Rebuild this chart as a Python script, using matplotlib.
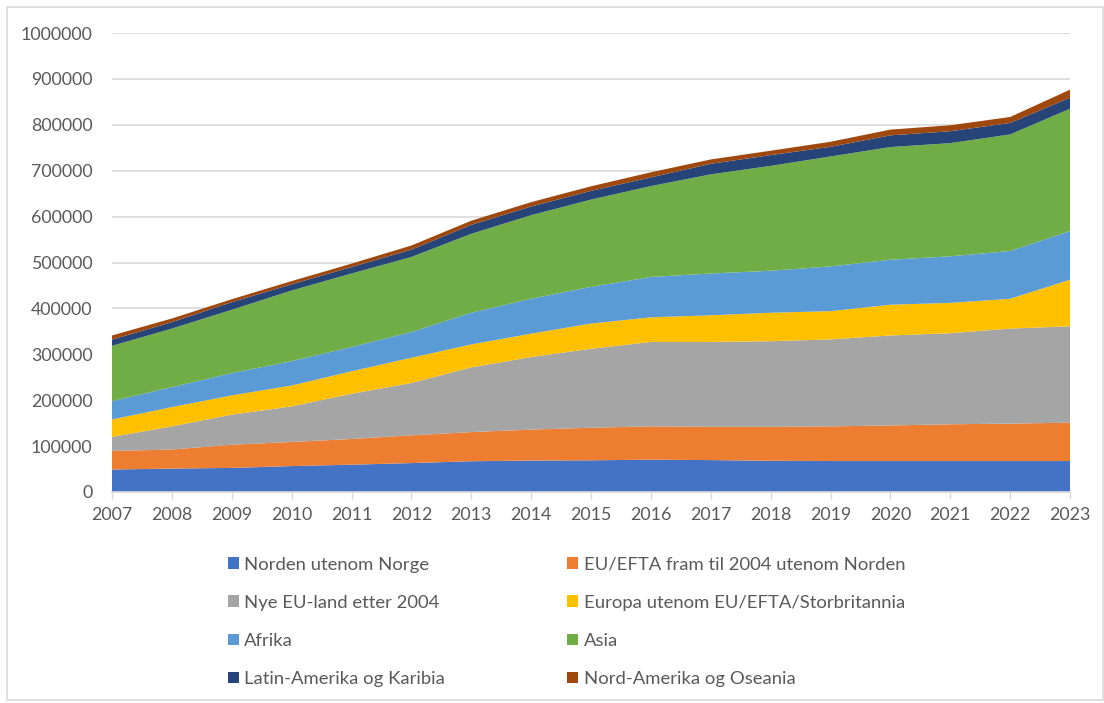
import matplotlib.pyplot as plt
from matplotlib.patches import Rectangle, Patch

plt.rcParams['font.family'] = ['Lato', 'DejaVu Sans']

years = list(range(2007, 2024))

# values per year
norden = [49000, 51000, 52500, 56500, 59500, 63000, 67000, 68500, 69000, 70500,
          69500, 68000, 67500, 67500, 67500, 67500, 67500]
eu_efta = [40500, 41500, 50500, 52500, 56000, 60500, 63500, 67500, 71000, 72500,
           72500, 74000, 75500, 77500, 80000, 81500, 83500]
nye_eu = [30500, 50500, 65500, 77500, 98500, 114000, 141000, 158000, 172000, 184000,
          185000, 186500, 189500, 196000, 198500, 207000, 210000]
europa = [38000, 42000, 42000, 45500, 49000, 55000, 50000, 51000, 55000, 53500,
          58000, 62000, 61500, 67000, 66000, 65000, 101500]
afrika = [40000, 43500, 48500, 53000, 53000, 56000, 69000, 76000, 80000, 88000,
          91000, 91500, 97500, 98000, 101500, 104000, 106000]
asia = [120500, 127500, 138000, 154000, 160000, 163500, 172000, 182000, 190000, 198000,
        216000, 228500, 239500, 245500, 246500, 254000, 266500]
latin = [13500, 14000, 16500, 13500, 14000, 16000, 19500, 19000, 19000, 19000,
         23000, 23500, 21000, 25500, 26000, 25000, 24000]
nord_am = [9000, 8000, 6500, 7000, 7500, 9000, 9000, 9500, 10000, 11000,
           9500, 9500, 11000, 12500, 13000, 13000, 17500]

labels = ["Norden utenom Norge", "EU/EFTA fram til 2004 utenom Norden",
          "Nye EU-land etter 2004", "Europa utenom EU/EFTA/Storbritannia",
          "Afrika", "Asia", "Latin-Amerika og Karibia", "Nord-Amerika og Oseania"]
colors = ["#4472C4", "#ED7D31", "#A5A5A5", "#FFC000",
          "#5B9BD5", "#70AD47", "#264478", "#9E480E"]

series = [norden, eu_efta, nye_eu, europa, afrika, asia, latin, nord_am]

fig = plt.figure(figsize=(11.04, 7.03), dpi=100)
ax = fig.add_axes([112 / 1104, 1 - 492 / 703, 958 / 1104, 459 / 703])

ax.stackplot(years, *series, colors=colors, linewidth=0)

ax.set_xlim(2007, 2023)
ax.set_ylim(0, 1000000)
ax.set_yticks(range(0, 1000001, 100000))
ax.set_xticks(years)
ax.set_yticklabels([str(v) for v in range(0, 1000001, 100000)])
ax.grid(axis='y', color='#d9d9d9', linewidth=1.2)
ax.set_axisbelow(True)

for s in ['top', 'right', 'left']:
    ax.spines[s].set_visible(False)
ax.spines['bottom'].set_color('#d9d9d9')
ax.spines['bottom'].set_linewidth(1.2)
ax.spines['bottom'].set_zorder(5)

ax.tick_params(axis='y', length=0, pad=14, labelsize=12.8, labelcolor='#595959')
ax.tick_params(axis='x', length=5, width=1, color='#d9d9d9', pad=6,
               labelsize=12.8, labelcolor='#595959')

# legend, row by row as in the picture
handles = [Patch(facecolor=c, edgecolor='none') for c in colors]
order = [0, 2, 4, 6, 1, 3, 5, 7]
fig.legend([handles[i] for i in order], [labels[i] for i in order],
           ncol=2, loc='upper left', bbox_to_anchor=(211 / 1104, 1 - 540 / 703),
           frameon=False, fontsize=13.3, labelcolor='#595959',
           handlelength=0.6, handleheight=0.6, handletextpad=0.3,
           columnspacing=6.6, labelspacing=1.2)

# chart border
fig.patches.append(Rectangle((7 / 1104, 3 / 703), 1096 / 1104, 693 / 703,
                             transform=fig.transFigure, fill=False,
                             edgecolor='#d9d9d9', linewidth=1.2))

fig.savefig('out.png', dpi=100)
